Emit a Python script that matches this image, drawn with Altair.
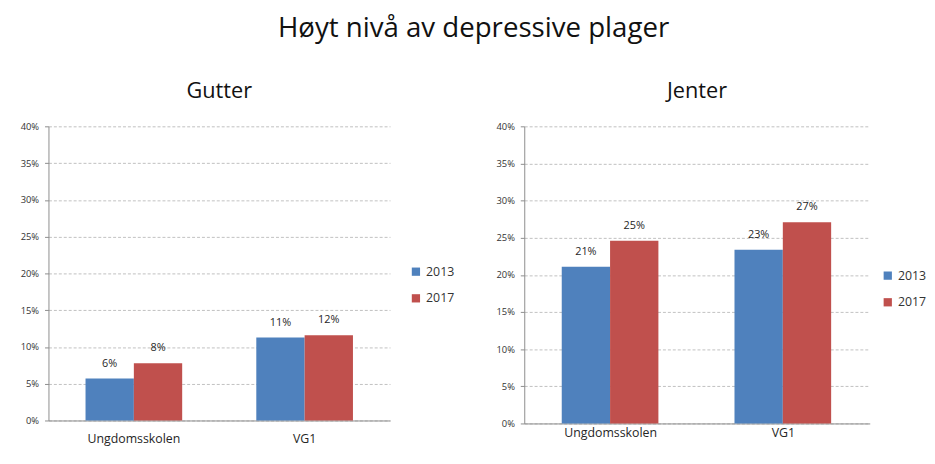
import altair as alt
import pandas as pd

categories = ["Ungdomsskolen", "VG1"]
years = ["2013", "2017"]
gutter_2013 = [5.7, 11.3]
gutter_2017 = [7.8, 11.6]
jenter_2013 = [21.1, 23.4]
jenter_2017 = [24.6, 27.1]
y_ticks = [0, 5, 10, 15, 20, 25, 30, 35, 40]
colors = ["#4F81BD", "#C0504D"]
FONT = "Open Sans"


def make_df(v13, v17):
    rows = []
    for c, a, b in zip(categories, v13, v17):
        rows.append({"category": c, "year": "2013", "value": a})
        rows.append({"category": c, "year": "2017", "value": b})
    return pd.DataFrame(rows)


def panel(df, title, w, h, lx, ly, lab_pad):
    base = alt.Chart(df).transform_calculate(
        label="format(datum.value, '.0f') + '%'"
    ).encode(
        x=alt.X("category:N", sort=categories,
                scale=alt.Scale(paddingInner=0.434, paddingOuter=0.217),
                axis=alt.Axis(title=None, labelAngle=0, labelFontSize=12.5, labelColor="#262626",
                              ticks=False, domainColor="#8c8c8c", labelPadding=lab_pad,
                              labelFont=FONT)),
        xOffset=alt.XOffset("year:N", sort=years, scale=alt.Scale(paddingInner=0, paddingOuter=0)),
        y=alt.Y("value:Q", scale=alt.Scale(domain=[0, 40], nice=False),
                axis=alt.Axis(values=y_ticks, title=None, labelExpr="datum.value + '%'",
                              labelFontSize=9.5, labelColor="#333333", labelFont=FONT,
                              gridDash=[3, 2], gridColor="#b0b0b0", gridWidth=0.8,
                              domainColor="#8c8c8c", tickColor="#8c8c8c", tickSize=4,
                              labelPadding=6)),
    )
    bars = base.mark_bar().encode(
        color=alt.Color("year:N", sort=years,
                        scale=alt.Scale(domain=years, range=colors),
                        legend=alt.Legend(title=None, orient="none", legendX=lx, legendY=ly,
                                          symbolType="square", symbolSize=70, labelFontSize=12.5,
                                          labelFont=FONT, labelColor="#333333", rowPadding=14,
                                          symbolStrokeWidth=0, labelOffset=4, padding=0))
    )
    text = base.mark_text(dy=-15, fontSize=11, font=FONT, color="#262626").encode(text="label:N")
    return alt.layer(bars, text).properties(
        width=w, height=h,
        title=alt.TitleParams(title, fontSize=22, font=FONT, fontWeight="normal", offset=19,
                              anchor="middle", frame="group", color="#111111"),
    )


left = panel(make_df(gutter_2013, gutter_2017), "Gutter", 346, 298, 366, 141, 12)
right = panel(make_df(jenter_2013, jenter_2017), "Jenter", 350, 301, 362, 145, 3)

chart = alt.hconcat(left, right, spacing=41).resolve_scale(color="independent").resolve_legend(
    color="independent"
).properties(
    title=alt.TitleParams("Høyt nivå av depressive plager", fontSize=28, font=FONT,
                          fontWeight="normal", anchor="middle", offset=37, color="#111111"),
    padding={"left": 12, "top": 5, "right": 0, "bottom": 0},
).configure_view(stroke=None)

chart.save("out.html", embed_options={"renderer": "svg", "actions": False})
